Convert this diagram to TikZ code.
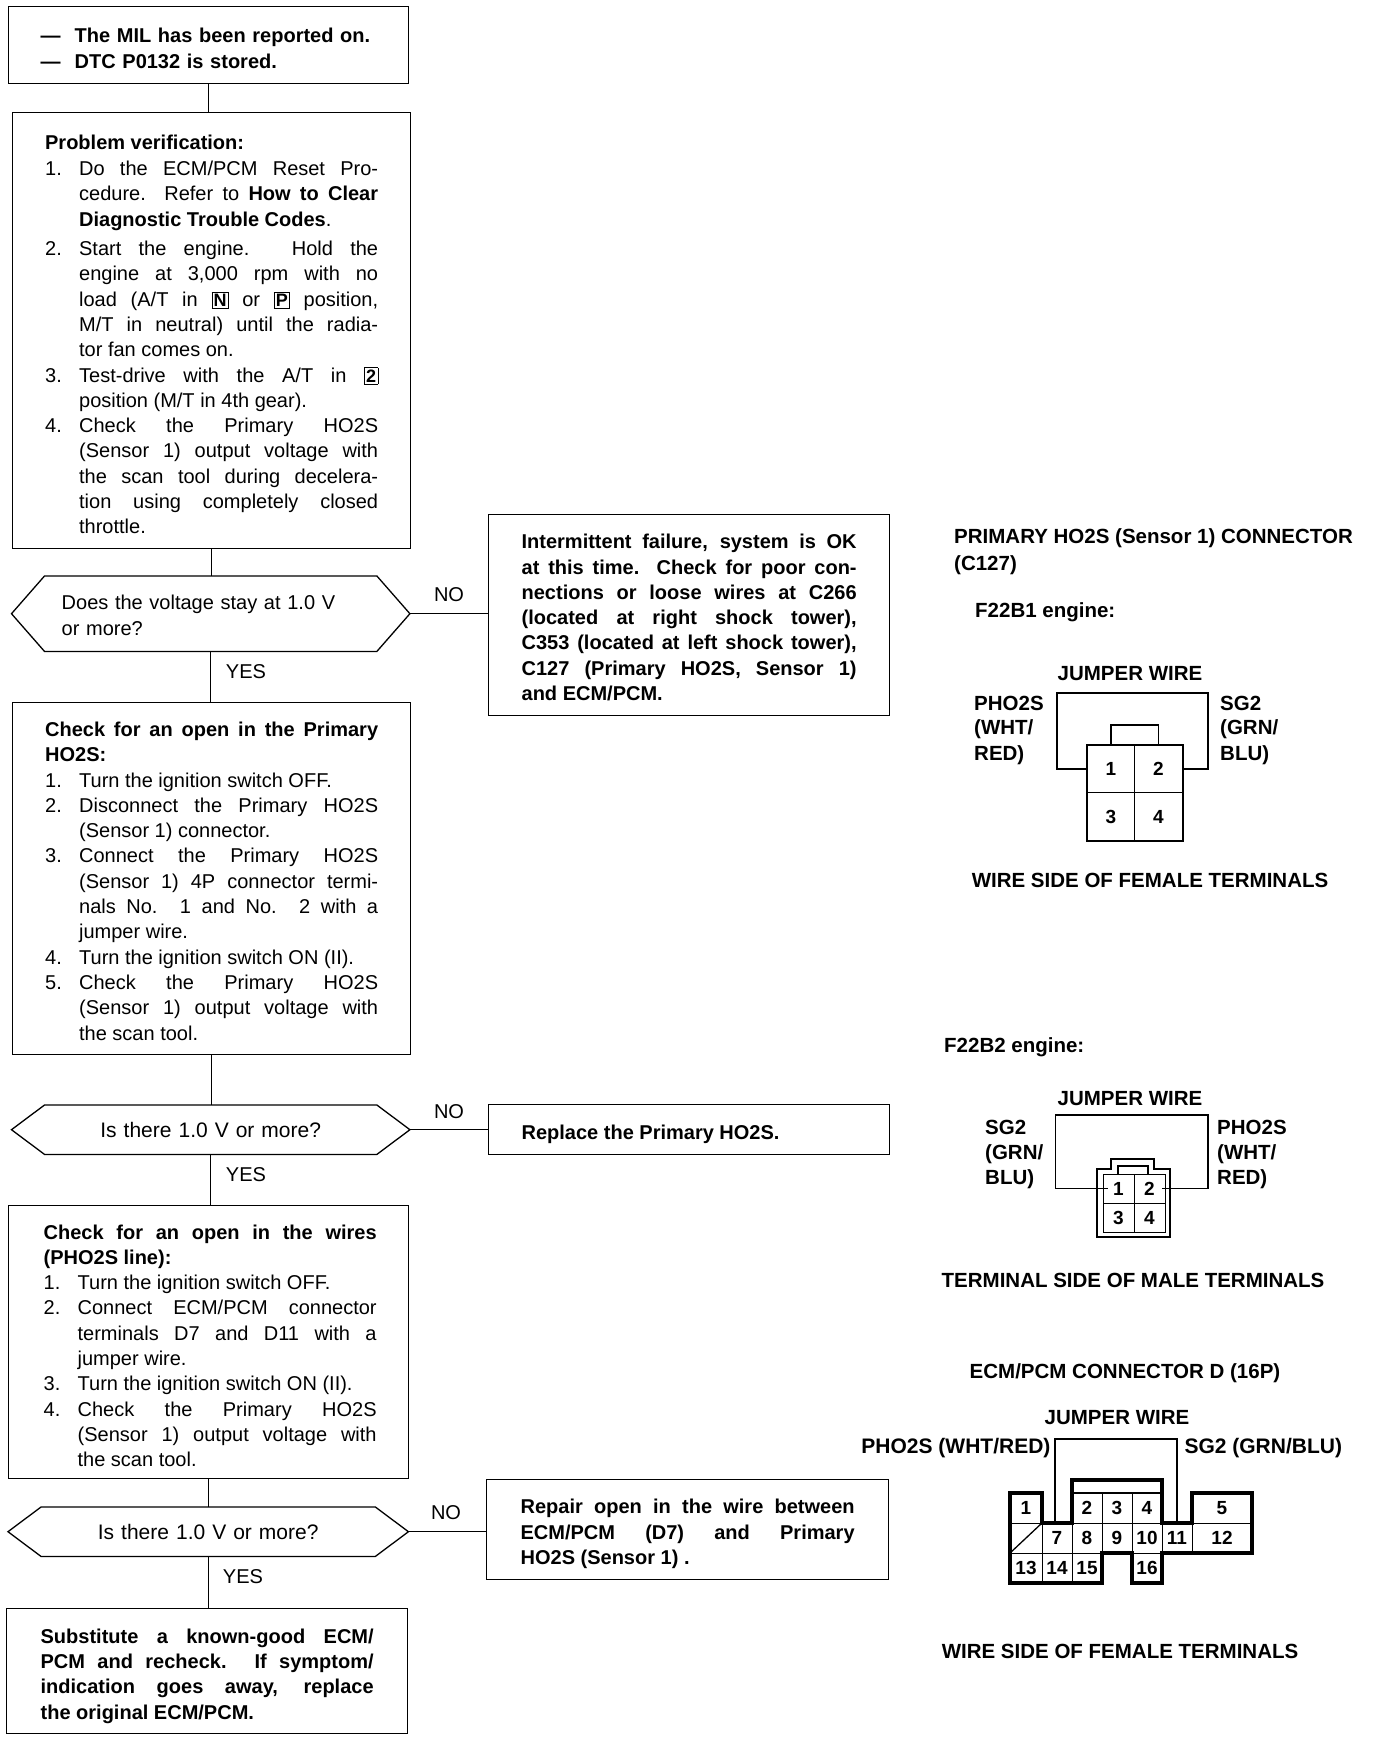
\documentclass[tikz,border=0pt]{standalone}
\usepackage{fontspec}
\setmainfont{Liberation Sans}
\usepackage{tikz}
\usetikzlibrary{calc}
\sloppy
\hyphenpenalty=10000
\setlength{\fboxsep}{1.6pt}
\newcommand{\keybox}[1]{\smash{\fbox{\fontsize{18}{18}\selectfont\textbf{#1}}}}
\newcommand{\topgap}[1]{\rule{0pt}{#1pt}}
\newcommand{\flowitem}[2]{\par\noindent\hangindent=34pt\hangafter=1\relax\makebox[34pt][l]{#1}#2\par}
\newcommand{\hexoutline}[2]{\draw[flowline] (#1.west) -- ([xshift=#2pt]#1.north west) -- ([xshift=-#2pt]#1.north east) -- (#1.east) -- ([xshift=-#2pt]#1.south east) -- ([xshift=#2pt]#1.south west) -- cycle;}
\tikzset{
  flowline/.style={line width=1.3pt},
  flowbox/.style={draw,flowline,anchor=north west,inner sep=0pt,align=justify,font=\fontsize{20}{25.3}\selectfont},
  boldbox/.style={flowbox,font=\fontsize{20}{25.3}\selectfont\bfseries},
  hexbox/.style={anchor=north west,inner sep=0pt,font=\fontsize{20}{25.3}\selectfont},
  answer/.style={font=\fontsize{20}{24}\selectfont},
  caption/.style={font=\fontsize{20.5}{25.3}\selectfont\bfseries},
  widecaption/.style={font=\fontsize{21}{25.3}\selectfont\bfseries},
  pinlabel/.style={caption,anchor=west,align=left,inner xsep=0pt},
  wire/.style={line width=1.7pt},
  housing/.style={line width=2.2pt},
  cell/.style={draw,line width=0.8pt,inner sep=0pt,font=\fontsize{19}{19}\selectfont\bfseries}
}
\begin{document}
\begin{tikzpicture}[x=1pt,y=-1pt]
  \useasboundingbox (0,0) rectangle (1376,1740);
  \node[boldbox,minimum width=400,minimum height=77,text width=336,align=left] (milbox) at (8,6)
    {\topgap{21}\makebox[24pt][l]{---}\hspace{10pt}The MIL has been reported on.\\[1.3pt]\makebox[24pt][l]{---}\hspace{10pt}DTC P0132 is stored.};
  \node[flowbox,minimum width=398,minimum height=436,text width=333] (verifybox) at (12,112)
    {\topgap{22}\textbf{Problem verification:}\par\vspace{1pt}
    \flowitem{1.}{Do the ECM/PCM Reset Pro-\linebreak cedure. Refer to \textbf{How to Clear Diagnostic Trouble Codes}.}
    \vspace{4pt}
    \flowitem{2.}{Start the engine. Hold the\linebreak engine at 3,000 rpm with no\linebreak load (A/T in \keybox{N} or \keybox{P} position,\linebreak M/T in neutral) until the radia-\linebreak tor fan comes on.}
    \flowitem{3.}{Test-drive with the A/T in \keybox{2}\linebreak position (M/T in 4th gear).}
    \flowitem{4.}{Check the Primary HO2S\linebreak (Sensor 1) output voltage with\linebreak the scan tool during decelera-\linebreak tion using completely closed\linebreak throttle.}};
  \node[hexbox,minimum width=398,minimum height=75,text width=398] (stayhex) at (11.5,576)
    {\topgap{18}\hspace{50pt}Does the voltage stay at 1.0 V\\\hspace{50pt}or more?};
  \hexoutline{stayhex}{33}
  \node[boldbox,minimum width=401,minimum height=201,text width=335] (failbox) at (488,514)
    {\topgap{19.4}Intermittent failure, system is OK\linebreak at this time. Check for poor con-\linebreak nections or loose wires at C266\linebreak (located at right shock tower),\linebreak C353 (located at left shock tower),\linebreak C127 (Primary HO2S, Sensor 1)\linebreak and ECM/PCM.};
  \node[flowbox,minimum width=398,minimum height=352,text width=333] (openbox) at (12,702)
    {\topgap{19.4}\textbf{Check for an open in the Primary\linebreak HO2S:}
    \flowitem{1.}{Turn the ignition switch OFF.}
    \flowitem{2.}{Disconnect the Primary HO2S\linebreak (Sensor 1) connector.}
    \flowitem{3.}{Connect the Primary HO2S\linebreak (Sensor 1) 4P connector termi-\linebreak nals No. 1 and No. 2 with a\linebreak jumper wire.}
    \flowitem{4.}{Turn the ignition switch ON (II).}
    \flowitem{5.}{Check the Primary HO2S\linebreak (Sensor 1) output voltage with\linebreak the scan tool.}};
  \node[hexbox,minimum width=398,minimum height=49,align=center,text width=398,font=\fontsize{21}{25.3}\selectfont] (sensorhex) at (11.5,1105)
    {Is there 1.0 V or more?};
  \hexoutline{sensorhex}{33}
  \node[boldbox,minimum width=401,minimum height=50,text width=335] (replacebox) at (488,1104)
    {\topgap{23.8}Replace the Primary HO2S.};
  \node[flowbox,minimum width=400,minimum height=273,text width=336] (wirebox) at (8,1205)
    {\leftskip=3pt\topgap{21.6}\textbf{Check for an open in the wires\linebreak (PHO2S line):}
    \flowitem{1.}{Turn the ignition switch OFF.}
    \flowitem{2.}{Connect ECM/PCM connector\linebreak terminals D7 and D11 with a\linebreak jumper wire.}
    \flowitem{3.}{Turn the ignition switch ON (II).}
    \flowitem{4.}{Check the Primary HO2S\linebreak (Sensor 1) output voltage with\linebreak the scan tool.}};
  \node[hexbox,minimum width=400,minimum height=49,align=center,text width=400,font=\fontsize{21}{25.3}\selectfont] (wirehex) at (8,1507)
    {Is there 1.0 V or more?};
  \hexoutline{wirehex}{33}
  \node[boldbox,minimum width=402,minimum height=100,text width=334] (repairbox) at (486,1479)
    {\topgap{23}Repair open in the wire between\linebreak ECM/PCM (D7) and Primary\linebreak HO2S (Sensor 1) .};
  \node[boldbox,minimum width=401,minimum height=125,text width=333] (ecmbox) at (6,1608)
    {\topgap{24}Substitute a known-good ECM/\linebreak PCM and recheck. If symptom/\linebreak indication goes away, replace\linebreak the original ECM/PCM.};

  \draw[flowline] (milbox.south) -- (milbox.south |- verifybox.north);
  \draw[flowline] (verifybox.south) -- (verifybox.south |- stayhex.north);
  \draw[flowline] (stayhex.south) -- (stayhex.south |- openbox.north);
  \draw[flowline] (openbox.south) -- (openbox.south |- sensorhex.north);
  \draw[flowline] (sensorhex.south) -- (sensorhex.south |- wirebox.north);
  \draw[flowline] (wirebox.south) -- (wirebox.south |- wirehex.north);
  \draw[flowline] (wirehex.south) -- (wirehex.south |- ecmbox.north);
  \draw[flowline] (stayhex.east) -- (stayhex.east -| failbox.west);
  \draw[flowline] (sensorhex.east) -- (sensorhex.east -| replacebox.west);
  \draw[flowline] (wirehex.east) -- (wirehex.east -| repairbox.west);

  \node[answer] (stayno) at (449,595){NO};
  \node[answer] (stayyes) at (246,672){YES};
  \node[answer] (sensorno) at (449,1112){NO};
  \node[answer] (sensoryes) at (246,1175){YES};
  \node[answer] (wireno) at (446,1513){NO};
  \node[answer] (wireyes) at (243,1577){YES};

  \node[pinlabel] (primarytitle) at (954,538){PRIMARY HO2S (Sensor 1) CONNECTOR};
  \node[pinlabel] (primaryid) at (954,565){(C127)};
  \node[pinlabel] (engineone) at (975,612){F22B1 engine:};
  \begin{scope}[shift={(1087,745)}]
    \node[cell,minimum width=47.5,minimum height=47.5] (ta1) at (24,24){1};
    \node[cell,minimum width=47.5,minimum height=47.5] (ta2) at (71.5,24){2};
    \node[cell,minimum width=47.5,minimum height=47.5] (ta3) at (24,71.5){3};
    \node[cell,minimum width=47.5,minimum height=47.5] (ta4) at (71.5,71.5){4};
    \draw[housing] (ta1.north west) rectangle (ta4.south east);
    \coordinate (ja) at (121,-52);
    \draw[wire] (ta1.west) -- ++(-30,0) |- (ja) |- (ta2.east);
    \draw[wire] (ta1.north) -- ++(0,-20) -| (ta2.north);
    \node[caption] (jumperone) at (43,-71){JUMPER WIRE};
    \node[pinlabel] (phoone) at (-113,-42){PHO2S};
    \node[pinlabel] (whtone) at (-113,-16){(WHT/};
    \node[pinlabel] (redone) at (-113,10){RED)};
    \node[pinlabel] (sgone) at (133,-42){SG2};
    \node[pinlabel] (grnone) at (133,-16){(GRN/};
    \node[pinlabel] (bluone) at (133,10){BLU)};
    \node[caption] (wireside) at (63,135){WIRE SIDE OF FEMALE TERMINALS};
  \end{scope}

  \node[pinlabel] (enginetwo) at (944,1047){F22B2 engine:};
  \begin{scope}[shift={(1134,1203)}]
    \node[cell,minimum width=31,minimum height=29] (tb1) at (-15.5,-14.5){1};
    \node[cell,minimum width=31,minimum height=29] (tb2) at (15.5,-14.5){2};
    \node[cell,minimum width=31,minimum height=29] (tb3) at (-15.5,14.5){3};
    \node[cell,minimum width=31,minimum height=29] (tb4) at (15.5,14.5){4};
    \draw[housing] (-37,-34) -- (-23,-34) -- (-23,-44) -- (20,-44) -- (20,-34) -- (36,-34) -- (36,34) -- (-37,34) -- cycle;
    \draw[wire] (-16,-29) -- (-16,-37) -- (14,-37) -- (14,-29);
    \coordinate (jb) at (74,-88);
    \draw[wire] ([xshift=5pt]tb1.west) -- ++(-52,0) |- (jb) |- ([xshift=-3pt]tb2.east);
    \node[caption] (jumpertwo) at (-4,-104){JUMPER WIRE};
    \node[pinlabel] (sgtwo) at (-149,-76){SG2};
    \node[pinlabel] (grntwo) at (-149,-49){(GRN/};
    \node[pinlabel] (blutwo) at (-149,-24){BLU)};
    \node[pinlabel] (photwo) at (83,-76){PHO2S};
    \node[pinlabel] (whttwo) at (83,-49){(WHT/};
    \node[pinlabel] (redtwo) at (83,-24){RED)};
    \node[caption] (termside) at (-1,77){TERMINAL SIDE OF MALE TERMINALS};
  \end{scope}

  \node[caption] (ecmtitle) at (1125,1373){ECM/PCM CONNECTOR D (16P)};
  \begin{scope}[shift={(1010,1493)}]
    \foreach \n/\cx/\cy/\cw in {1/16/15/32,2/77/15/30,3/107/15/30,4/137/15/30,5/212/15/60,7/47/45/30,8/77/45/30,9/107/45/30,10/137/45/30,11/167/45/30,12/212/45/60,13/16/75/32,14/47/75/30,15/77/75/30,16/137/75/30}
      \node[cell,minimum width=\cw,minimum height=30] (d\n) at (\cx,\cy){\n};
    \node[cell,minimum width=32,minimum height=30] (dblank) at (16,45){};
    \draw[flowline] (dblank.south west) -- (dblank.north east);
    \draw[housing,line width=3.2pt] (0,0) -- (32,0) -- (32,30) -- (62,30) -- (62,-13) -- (152,-13) -- (152,30) -- (182,30) -- (182,0) -- (242,0) -- (242,60) -- (152,60) -- (152,90) -- (122,90) -- (122,60) -- (92,60) -- (92,90) -- (0,90) -- cycle;
    \draw[wire,line width=2pt] (d2.north west) -- (d4.north east);
    \coordinate (jc) at (107,-54);
    \draw[wire,line width=2.4pt] ([xshift=-2pt]d7.north) |- (jc) -| (d11.north);
    \node[caption] (jumperthree) at (107,-75){JUMPER WIRE};
    \node[widecaption,anchor=east] (phothree) at (44,-45){PHO2S (WHT/RED)};
    \node[widecaption,anchor=west] (sgthree) at (171,-45){SG2 (GRN/BLU)};
    \node[caption] (femaleside) at (110,158){WIRE SIDE OF FEMALE TERMINALS};
  \end{scope}
\end{tikzpicture}
\end{document}
